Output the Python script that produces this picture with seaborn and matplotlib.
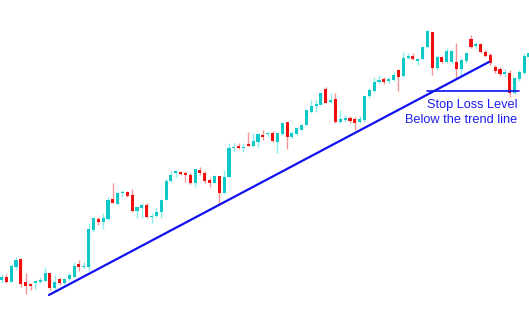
import numpy as np
import pandas as pd
import seaborn as sns
import matplotlib
matplotlib.use('Agg')
import matplotlib.pyplot as plt

sns.set_theme(style="white")
plt.rcParams['font.family'] = ['Liberation Sans', 'DejaVu Sans']

# candle prices (one candle per bar)
opens = [33, 36, 31, 46, 54, 31, 29, 30, 31, 32, 40, 25, 34, 30, 34, 36, 49, 46, 46, 83,
         94, 91, 94, 114, 109, 120, 121, 118, 102, 105, 108, 96, 97, 101, 113, 132, 140, 141, 140, 138,
         130, 143, 140, 133, 130, 137, 120, 136, 165, 167, 165, 169, 167, 171, 178, 179, 180, 171, 179, 191,
         176, 179, 183, 188, 201, 207, 208, 224, 211, 214, 191, 193, 195, 194, 191, 193, 217, 222, 231, 234,
         232, 233, 243, 237, 255, 257, 252, 254, 266, 281, 245, 256, 251, 251, 251, 244, 252, 274, 267, 269,
         261, 258, 246, 244, 239, 240, 220, 234, 240, 256]
highs = [39, 39, 49, 56, 55, 40, 30, 32, 36, 46, 40, 38, 35, 35, 40, 51, 53, 51, 90, 96,
         96, 100, 116, 130, 121, 123, 122, 124, 106, 110, 110, 100, 106, 114, 134, 142, 143, 142, 142, 140,
         144, 146, 142, 135, 138, 137, 143, 170, 170, 170, 170, 181, 180, 180, 183, 181, 182, 180, 191, 191,
         182, 186, 189, 204, 213, 214, 221, 226, 220, 220, 203, 198, 197, 196, 197, 218, 225, 236, 238, 236,
         236, 241, 244, 261, 260, 260, 255, 266, 283, 281, 257, 257, 265, 263, 270, 254, 260, 278, 271, 270,
         263, 260, 248, 246, 244, 243, 236, 243, 260, 261]
lows = [30, 30, 31, 43, 26, 19, 23, 24, 30, 32, 23, 21, 28, 29, 33, 36, 42, 45, 42, 81,
        88, 84, 93, 110, 108, 116, 116, 101, 95, 95, 95, 90, 96, 95, 113, 131, 136, 138, 131, 129,
        126, 138, 130, 126, 130, 108, 120, 136, 161, 164, 161, 167, 166, 166, 173, 177, 171, 160, 178, 164,
        175, 178, 183, 188, 200, 201, 208, 210, 210, 190, 190, 191, 190, 183, 190, 191, 215, 221, 230, 229,
        230, 232, 222, 236, 254, 253, 248, 253, 265, 238, 243, 250, 250, 250, 235, 238, 250, 265, 265, 260,
        256, 248, 240, 237, 236, 216, 219, 232, 239, 255]
closes = [36, 31, 47, 53, 29, 27, 27, 32, 33, 40, 25, 31, 30, 34, 38, 47, 46, 47, 84, 95,
          91, 95, 113, 110, 120, 121, 117, 102, 106, 108, 96, 97, 101, 113, 132, 138, 142, 139, 138, 130,
          144, 140, 132, 130, 137, 120, 136, 165, 166, 165, 166, 167, 172, 179, 176, 180, 172, 180, 190, 176,
          180, 185, 188, 203, 207, 209, 220, 210, 213, 191, 194, 195, 192, 190, 194, 217, 223, 231, 233, 231,
          234, 238, 236, 255, 257, 254, 254, 266, 282, 245, 256, 251, 262, 262, 244, 253, 260, 266, 269, 261,
          257, 250, 242, 239, 241, 220, 235, 241, 257, 260]

# trend line and stop loss level
trend_x = [9.8, 100.7]
trend_y = [18, 251]
stop_x = [87.9, 106.9]
stop_y = [222, 222]

df = pd.DataFrame({'o': opens, 'h': highs, 'l': lows, 'c': closes})
df['x'] = np.arange(len(df))
up = df['c'] >= df['o']

fig = plt.figure(figsize=(5.29, 3.13), dpi=100)
ax = fig.add_axes([0, 0, 1, 1])

# wicks
ax.vlines(df.loc[up, 'x'], df.loc[up, 'l'], df.loc[up, 'h'], color='#88eeee', lw=1.0, zorder=1)
ax.vlines(df.loc[~up, 'x'], df.loc[~up, 'l'], df.loc[~up, 'h'], color='#f59494', lw=1.0, zorder=1)
# bodies
ax.bar(df.loc[up, 'x'], (df.loc[up, 'c'] - df.loc[up, 'o']).clip(lower=1), bottom=df.loc[up, 'o'],
       width=0.64, color='#10c8c8', linewidth=0, zorder=2)
ax.bar(df.loc[~up, 'x'], df.loc[~up, 'c'] - df.loc[~up, 'o'], bottom=df.loc[~up, 'o'],
       width=0.64, color='#f01010', linewidth=0, zorder=2)

sns.lineplot(x=trend_x, y=trend_y, ax=ax, color='#1010f0', lw=1.6, zorder=3)
sns.lineplot(x=stop_x, y=stop_y, ax=ax, color='#1010f0', lw=1.2, zorder=3)

ax.text(97.2, 208, 'Stop Loss Level', color='#1c1cf0', fontsize=9.2, ha='center', va='center')
ax.text(94.9, 193, 'Below the trend line', color='#1c1cf0', fontsize=9.2, ha='center', va='center')

ax.set_xlim(-0.31, 108.99)
ax.set_ylim(0, 313)
ax.axis('off')

fig.savefig('out.png', dpi=100)
